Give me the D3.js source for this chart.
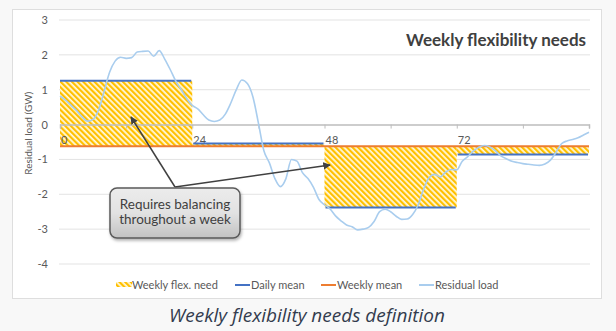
<!DOCTYPE html>
<html><head><meta charset="utf-8">
<script src="https://cdn.jsdelivr.net/npm/d3@7"></script>
<style>
html,body{margin:0;padding:0;background:#f8f8f8;}
svg{display:block;}
</style></head>
<body>
<svg id="c" width="616" height="331"></svg>
<script>
// ---- data ----
const title = "Weekly flexibility needs";
const caption = "Weekly flexibility needs definition";
const yAxisTitle = "Residual load (GW)";
const yTicks = [3, 2, 1, 0, -1, -2, -3, -4];
const xTickLabels = [0, 24, 48, 72];
const xTickMarks = [0, 12, 24, 36, 48, 60, 72, 84, 96];
const dayStarts = [0, 24, 48, 72];
const dailyMean = [1.26, -0.54, -2.38, -0.86];
const weeklyMean = -0.62;
const residualLoad = [
  0.82, 0.70, 0.55, 0.40, 0.22, 0.10, 0.15, 0.42, 0.95, 1.50,
  1.82, 1.93, 1.90, 1.92, 2.08, 2.10, 2.11, 1.96, 2.12, 1.88,
  1.58, 1.25, 1.00, 0.75, 0.55, 0.45, 0.28, 0.13, 0.09, 0.13,
  0.30, 0.62, 1.00, 1.28, 1.18, 0.80, 0.05, -0.75, -1.10, -1.55,
  -1.78, -1.55, -1.00, -1.05, -1.38, -1.55, -1.80, -2.15, -2.30, -2.42,
  -2.62, -2.76, -2.88, -2.93, -3.02, -3.00, -2.95, -2.78, -2.50, -2.43,
  -2.50, -2.63, -2.72, -2.71, -2.58, -2.30, -1.85, -1.52, -1.43, -1.50,
  -1.36, -1.29, -1.30, -1.05, -0.92, -0.76, -0.65, -0.60, -0.64, -0.75,
  -0.90, -0.98, -1.05, -1.09, -1.12, -1.14, -1.16, -1.17, -1.13, -1.02,
  -0.80, -0.55, -0.47, -0.43, -0.38, -0.30, -0.22
];
const legendItems = ["Weekly flex. need", "Daily mean", "Weekly mean", "Residual load"];
const calloutLines = ["Requires balancing", "throughout a week"];

// ---- drawing ----
const svg = d3.select("#c");
const font = "Lato, 'Open Sans', sans-serif";
const x = d3.scaleLinear().domain([0, 96]).range([60, 589]);
const y = d3.scaleLinear().domain([-4, 3]).range([264, 20]);

const defs = svg.append("defs");
const pat = defs.append("pattern").attr("id", "hatch").attr("patternUnits", "userSpaceOnUse")
  .attr("width", 4).attr("height", 4).attr("patternTransform", "rotate(-45)");
pat.append("rect").attr("width", 4).attr("height", 4).attr("fill", "#fff8dc");
pat.append("rect").attr("width", 2.2).attr("height", 4).attr("fill", "#ffc000");

const grad = defs.append("linearGradient").attr("id", "cg").attr("x1", 0).attr("y1", 0).attr("x2", 0).attr("y2", 1);
grad.append("stop").attr("offset", "0%").attr("stop-color", "#ececec");
grad.append("stop").attr("offset", "50%").attr("stop-color", "#e2e2e2");
grad.append("stop").attr("offset", "100%").attr("stop-color", "#c2c2c2");
const sh = defs.append("filter").attr("id", "sh").attr("x", "-20%").attr("y", "-20%").attr("width", "140%").attr("height", "150%");
sh.append("feDropShadow").attr("dx", 1).attr("dy", 2).attr("stdDeviation", 1.5).attr("flood-color", "#000").attr("flood-opacity", 0.3);
const mk = defs.append("marker").attr("id", "arr").attr("viewBox", "0 0 10 10").attr("refX", 9).attr("refY", 5)
  .attr("markerWidth", 5).attr("markerHeight", 5).attr("orient", "auto");
mk.append("path").attr("d", "M0,0 L10,5 L0,10 z").attr("fill", "#404040");

// chart frame
svg.append("rect").attr("x", 12.5).attr("y", 9.5).attr("width", 589).attr("height", 289)
  .attr("fill", "#fff").attr("stroke", "#dedede");

// gridlines
svg.append("g").selectAll("line").data(yTicks.filter(d => d !== 0)).join("line")
  .attr("x1", x(0) - 1).attr("x2", x(96) + 1).attr("y1", d => y(d)).attr("y2", d => y(d))
  .attr("stroke", "#e3e3e3").attr("stroke-width", 1);

// y axis labels
const yAxis = d3.axisLeft(y).tickValues(yTicks).tickSize(0).tickPadding(0).tickFormat(d3.format("d"));
const gy = svg.append("g").attr("transform", "translate(48,0)").call(yAxis);
gy.select(".domain").remove();
gy.selectAll("text").attr("font-family", font).attr("font-size", 11).attr("fill", "#595959")
  .text(d => d < 0 ? "-" + Math.abs(d) : d);

svg.append("text").attr("transform", `translate(32,${y(-0.25)}) rotate(-90)`)
  .attr("text-anchor", "middle").attr("font-family", font).attr("font-size", 10).attr("fill", "#595959")
  .text(yAxisTitle);

// hatched flex need
svg.append("g").selectAll("rect").data(dayStarts).join("rect")
  .attr("x", d => x(d)).attr("width", d => x(d + 24) - x(d))
  .attr("y", (d, i) => y(Math.max(dailyMean[i], weeklyMean)))
  .attr("height", (d, i) => Math.abs(y(dailyMean[i]) - y(weeklyMean)))
  .attr("fill", "url(#hatch)");

// zero axis
const xAxis = d3.axisBottom(x).tickValues(xTickMarks).tickSize(4).tickFormat("");
const gx = svg.append("g").attr("transform", `translate(0,${y(0)})`).call(xAxis);
gx.select(".domain").attr("stroke", "#bdbdbd").attr("stroke-width", 1.5);
gx.selectAll(".tick line").attr("stroke", "#bdbdbd").attr("stroke-width", 1);
svg.append("g").selectAll("text").data(xTickLabels).join("text")
  .attr("x", d => x(d) + 1).attr("y", y(0) + 19)
  .attr("font-family", font).attr("font-size", 11).attr("fill", "#595959").text(d => d);

// daily mean lines
svg.append("g").selectAll("line").data(dayStarts).join("line")
  .attr("x1", d => x(d) + (d === 0 ? 0 : 1)).attr("x2", d => x(d + 24) - 1)
  .attr("y1", (d, i) => y(dailyMean[i])).attr("y2", (d, i) => y(dailyMean[i]))
  .attr("stroke", "#4472c4").attr("stroke-width", 2);

// weekly mean
svg.append("line").attr("x1", x(0)).attr("x2", x(96)).attr("y1", y(weeklyMean)).attr("y2", y(weeklyMean))
  .attr("stroke", "#ed7d31").attr("stroke-width", 2);

// residual load
svg.append("path").datum(residualLoad)
  .attr("d", d3.line().x((d, i) => x(i)).y(d => y(d)).curve(d3.curveMonotoneX))
  .attr("fill", "none").attr("stroke", "#a9cdee").attr("stroke-width", 1.6);

// title
svg.append("text").attr("x", 586).attr("y", 46).attr("text-anchor", "end")
  .attr("font-family", font).attr("font-weight", "bold").attr("font-size", 17).attr("fill", "#404040").text(title);

// callout arrows
const cx0 = 175, cy0 = 187;
svg.append("line").attr("x1", cx0).attr("y1", cy0).attr("x2", 131).attr("y2", 117)
  .attr("stroke", "#404040").attr("stroke-width", 1.5).attr("marker-end", "url(#arr)");
svg.append("line").attr("x1", cx0).attr("y1", cy0).attr("x2", 330).attr("y2", 165)
  .attr("stroke", "#404040").attr("stroke-width", 1.5).attr("marker-end", "url(#arr)");

// callout box
svg.append("rect").attr("x", 110).attr("y", 188).attr("width", 130).attr("height", 50).attr("rx", 7)
  .attr("fill", "url(#cg)").attr("stroke", "#5a5a5a").attr("stroke-width", 1.5).attr("filter", "url(#sh)");
svg.append("g").selectAll("text").data(calloutLines).join("text")
  .attr("x", 175).attr("y", (d, i) => 209 + i * 15).attr("text-anchor", "middle")
  .attr("font-family", font).attr("font-size", 13.5).attr("fill", "#404040").text(d => d);

// legend
const lg = svg.append("g").attr("font-family", font).attr("font-size", 11).attr("fill", "#595959");
const legX = [116, 235, 321, 419];
lg.append("rect").attr("x", legX[0]).attr("y", 282).attr("width", 16).attr("height", 5).attr("fill", "url(#hatch)");
const legColors = [null, "#4472c4", "#ed7d31", "#a9cdee"];
[1, 2, 3].forEach(i => {
  lg.append("line").attr("x1", legX[i]).attr("x2", legX[i] + 15).attr("y1", 285).attr("y2", 285)
    .attr("stroke", legColors[i]).attr("stroke-width", 2);
});
lg.selectAll("text").data(legendItems).join("text")
  .attr("x", (d, i) => legX[i] + 16).attr("y", 289).text(d => d);

// caption
svg.append("text").attr("x", 307).attr("y", 322).attr("text-anchor", "middle")
  .attr("font-family", "'Open Sans', Lato, sans-serif").attr("font-style", "italic").attr("font-size", 19)
  .attr("fill", "#333c4e").text(caption);
</script>
</body></html>
